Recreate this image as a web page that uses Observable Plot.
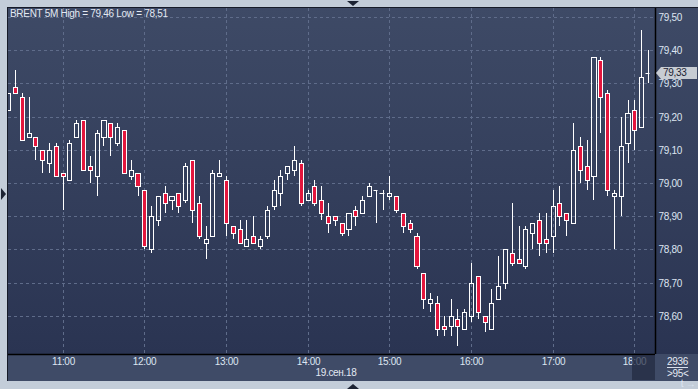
<!DOCTYPE html>
<html><head><meta charset="utf-8">
<script src="https://cdn.jsdelivr.net/npm/d3@7"></script>
<script src="https://cdn.jsdelivr.net/npm/@observablehq/plot@0.6"></script>
<style>
html,body{margin:0;padding:0;background:#c3cdd9;}
#wrap{position:relative;width:698px;height:389px;overflow:hidden;background:#c3cdd9;font-family:"Liberation Sans",Arial,sans-serif;}
#panel{position:absolute;left:7px;top:7px;width:691px;height:374px;background:#3f4b67;border-left:1px solid #161b28;border-top:1px solid #161b28;box-sizing:border-box;}
#plotbg{position:absolute;left:8px;top:8px;width:690px;height:346px;background:linear-gradient(#3e4a66,#2a3452);}
#chart{position:absolute;left:0;top:0;}
.txt{position:absolute;color:#e3e9f3;font-size:10px;letter-spacing:-0.3px;white-space:nowrap;line-height:12px;}
.tri{position:absolute;width:0;height:0;}
</style></head>
<body>
<div id="wrap">
  <div id="panel"></div>
  <div id="plotbg"></div>
  <div id="chart"></div>
  <div class="txt" style="left:10px;top:8px;">BRENT 5M High = 79,46 Low = 78,51</div>
  <div class="txt" style="left:296px;top:367px;width:80px;text-align:center;">19.сен.18</div>
  <div style="position:absolute;left:632px;top:355px;width:23px;height:25px;background:rgba(34,42,64,0.7);"></div>
  <div class="txt" style="left:667px;top:356px;border-bottom:1px solid #d8e0ec;line-height:11px;">2936</div>
  <div class="txt" style="left:667px;top:368px;">&gt;95&lt;</div>
  <div id="plabel" style="position:absolute;left:661px;width:36px;height:12px;background:#c7ccd3;color:#1c2333;font-size:10px;line-height:12px;letter-spacing:-0.3px;padding-left:2px;box-sizing:border-box;">79,33</div>
  <div id="parrow" class="tri" style="left:656px;border-top:6px solid transparent;border-bottom:6px solid transparent;border-right:5px solid #c7ccd3;"></div>
  <div class="tri" style="left:347px;top:1px;border-left:6px solid transparent;border-right:6px solid transparent;border-top:5px solid #1c2333;"></div>
  <div class="tri" style="left:347px;top:384px;border-left:6px solid transparent;border-right:6px solid transparent;border-bottom:5px solid #1c2333;"></div>
  <div class="tri" style="left:1px;top:188px;border-top:6px solid transparent;border-bottom:6px solid transparent;border-left:5px solid #1c2333;"></div>
</div>
<script>
const times = ["10:20","10:25","10:30","10:35","10:40","10:45","10:50","10:55",
"11:00","11:05","11:10","11:15","11:20","11:25","11:30","11:35","11:40","11:45","11:50","11:55",
"12:00","12:05","12:10","12:15","12:20","12:25","12:30","12:35","12:40","12:45","12:50","12:55",
"13:00","13:05","13:10","13:15","13:20","13:25","13:30","13:35","13:40","13:45","13:50","13:55",
"14:00","14:05","14:10","14:15","14:20","14:25","14:30","14:35","14:40","14:45","14:50","14:55",
"15:00","15:05","15:10","15:15","15:20","15:25","15:30","15:35","15:40","15:45","15:50","15:55",
"16:00","16:05","16:10","16:15","16:20","16:25","16:30","16:35","16:40","16:45","16:50","16:55",
"17:00","17:05","17:10","17:15","17:20","17:25","17:30","17:35","17:40","17:45","17:50","17:55",
"18:00","18:05","18:10"];
const open = [79.22,79.29,79.26,79.14,79.14,79.10,79.06,79.11,
79.03,79.01,79.14,79.19,79.05,79.02,79.14,79.18,79.12,79.16,79.02,79.03,
78.98,78.80,78.89,78.97,78.95,78.97,78.95,79.07,78.94,78.82,78.84,79.02,
79.01,78.87,78.86,78.81,78.84,78.81,78.84,78.93,78.97,79.03,79.04,79.06,
78.95,78.99,78.95,78.90,78.90,78.88,78.86,78.92,78.91,78.96,78.98,78.97,
78.96,78.96,78.91,78.88,78.84,78.73,78.64,78.64,78.57,78.57,78.59,78.56,
78.60,78.72,78.60,78.56,78.65,78.70,78.79,78.77,78.75,78.85,78.89,78.83,
78.84,78.94,78.91,78.88,79.11,79.05,79.02,79.37,79.27,78.96,78.96,79.12,
79.22,79.17,79.33];
const high = [79.27,79.34,79.27,79.26,79.14,79.10,79.12,79.12,
79.03,79.13,79.19,79.19,79.08,79.16,79.19,79.18,79.18,79.16,79.07,79.03,
78.98,78.93,78.96,78.99,78.96,78.97,79.06,79.07,78.96,78.87,79.04,79.07,
79.02,78.87,78.89,78.89,78.90,78.84,78.93,79.01,79.04,79.05,79.11,79.07,
78.98,79.01,78.99,78.94,78.90,78.88,78.91,78.93,78.96,79.00,78.98,78.98,
79.02,78.96,78.91,78.89,78.85,78.73,78.67,78.66,78.60,78.65,78.62,78.62,
78.76,78.72,78.60,78.68,78.78,78.80,78.94,78.87,78.87,78.88,78.91,78.91,
78.98,78.99,78.91,79.18,79.14,79.13,79.38,79.38,79.28,78.98,79.20,79.25,
79.25,79.46,79.40];
const low = [79.22,79.27,79.13,79.14,79.07,79.03,79.03,79.02,
78.92,79.01,79.14,79.04,79.00,78.96,79.11,79.08,79.11,79.03,79.01,78.96,
78.80,78.79,78.87,78.91,78.92,78.91,78.94,78.88,78.83,78.77,78.84,79.02,
78.84,78.83,78.82,78.81,78.82,78.80,78.83,78.92,78.93,79.01,79.02,78.93,
78.95,78.93,78.89,78.85,78.87,78.84,78.84,78.87,78.91,78.96,78.88,78.92,
78.95,78.91,78.85,78.85,78.74,78.62,78.61,78.54,78.54,78.54,78.51,78.56,
78.58,78.59,78.55,78.56,78.65,78.68,78.75,78.76,78.74,78.80,78.78,78.79,
78.79,78.87,78.84,78.88,79.00,78.98,78.95,79.15,78.96,78.80,78.90,79.06,
79.10,79.17,79.30];
const close = [79.27,79.27,79.13,79.15,79.11,79.07,79.10,79.02,
79.02,79.12,79.18,79.04,79.04,79.15,79.19,79.14,79.17,79.03,79.04,78.99,
78.81,78.90,78.96,78.94,78.96,78.93,79.05,78.92,78.84,78.83,79.03,79.03,
78.88,78.85,78.82,78.83,78.82,78.83,78.92,78.98,79.02,79.05,79.07,78.94,
78.97,78.94,78.91,78.88,78.89,78.85,78.91,78.90,78.95,78.99,78.98,78.97,
78.97,78.92,78.87,78.86,78.75,78.65,78.65,78.56,78.56,78.60,78.57,78.61,
78.70,78.61,78.58,78.64,78.69,78.80,78.76,78.76,78.86,78.88,78.82,78.82,
78.93,78.90,78.89,79.10,79.04,79.01,79.38,79.26,78.98,78.97,79.11,79.21,
79.16,79.32,79.33];
const yTicks = [78.6,78.7,78.8,78.9,79.0,79.1,79.2,79.3,79.4,79.5];
const hourTicks = ["11:00","12:00","13:00","14:00","15:00","16:00","17:00","18:00"];
const lastPrice = 79.33;

const T = s => new Date(`2018-09-19T${s.length === 5 ? s + ":00" : s}Z`);
const MIN = 60000;
const data = times.map((t, i) => ({t: T(t), o: open[i], h: high[i], l: low[i], c: close[i]}));
const bodies = data.filter(d => d.o !== d.c);
const dojis = data.filter(d => d.o === d.c);

const red = "#e3163d";
const plot = Plot.plot({
  width: 698, height: 389,
  marginLeft: 8, marginRight: 43, marginTop: 8, marginBottom: 35,
  style: {background: "transparent", fontFamily: "'Liberation Sans', Arial, sans-serif", fontSize: "10px", color: "#dde5f1", letterSpacing: "-0.3px"},
  x: {type: "utc", domain: [T("10:19:51"), T("18:15:12")], round: true},
  y: {domain: [78.485, 79.527], round: true},
  marks: [
    Plot.gridY(yTicks, {stroke: "#5f6c8a", strokeOpacity: 1, strokeDasharray: "3,3"}),
    Plot.gridX(hourTicks.map(T), {stroke: "#5f6c8a", strokeOpacity: 1, strokeDasharray: "3,3"}),
    Plot.ruleX(data, {x: "t", y1: "h", y2: d => Math.max(d.o, d.c), stroke: "#ffffff", strokeWidth: 1, clip: true}),
    Plot.ruleX(data, {x: "t", y1: "l", y2: d => Math.min(d.o, d.c), stroke: "#ffffff", strokeWidth: 1, clip: true}),
    Plot.rect(bodies, {
      x1: d => new Date(+d.t - 1.5 * MIN), x2: d => new Date(+d.t + 1.5 * MIN),
      y1: "o", y2: "c",
      insetLeft: 0.5, insetRight: -0.5, insetTop: 0.5, insetBottom: -0.5,
      fill: d => d.c < d.o ? red : "none",
      stroke: "#ffffff", strokeWidth: 1, clip: true
    }),
    Plot.ruleY(dojis, {y: "o", x1: d => new Date(+d.t - 1.5 * MIN), x2: d => new Date(+d.t + 1.5 * MIN), dx: -0.5, stroke: "#ffffff", strokeWidth: 1, clip: true}),
    Plot.ruleX([0], {x: () => T("18:15:12"), stroke: "#000", strokeWidth: 1.5}),
    Plot.ruleY([0], {y: () => 78.485, stroke: "#000", strokeWidth: 1.5}),
    Plot.axisY(yTicks, {anchor: "right", tickSize: 0, tickPadding: 3, textAnchor: "start",
      tickFormat: d => d.toFixed(2).replace(".", ","), fill: "#dde5f1"}),
    Plot.axisX(hourTicks.map(T), {anchor: "bottom", tickSize: 0, tickPadding: 3,
      tickFormat: d3.utcFormat("%H:%M"), fill: "#dde5f1"})
  ]
});
document.getElementById("chart").appendChild(plot);
const yp = plot.scale("y").apply(lastPrice);
document.getElementById("plabel").style.top = (yp - 6) + "px";
document.getElementById("parrow").style.top = (yp - 6) + "px";
</script>
</body></html>
